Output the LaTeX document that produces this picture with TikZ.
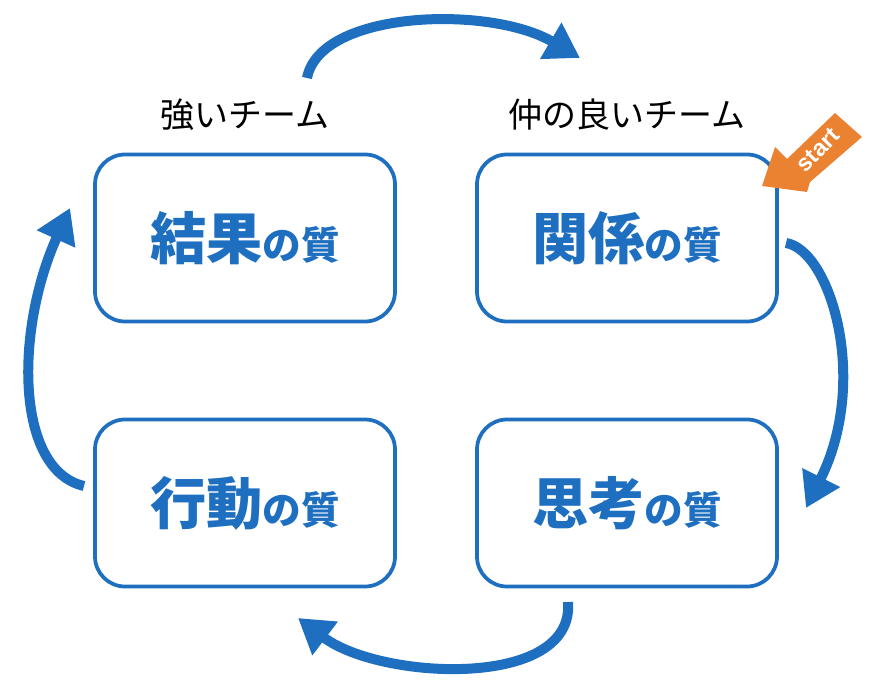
\documentclass[tikz,border=0pt]{standalone}
\usepackage{fontspec}
\setmainfont{Noto Sans CJK JP}
\setsansfont{Liberation Sans}
\usetikzlibrary{arrows.meta}
\definecolor{qb}{HTML}{1F6FC1}
\definecolor{qo}{HTML}{EB8232}
\begin{document}
\begin{tikzpicture}[x=0.03cm,y=-0.03cm,
  box/.style={draw=qb,line width=3.2pt,rounded corners=30*0.03cm,minimum width=300*0.03cm,minimum height=167*0.03cm,inner sep=0pt},
  cyc/.style={draw=qb,line width=10*0.03cm,-{Triangle[length=34*0.03cm,width=40*0.03cm]}},
  lbl/.style={font=\fontsize{29}{32}\selectfont}]
\useasboundingbox (0,0) rectangle (876,682);
\newcommand{\qtxt}[1]{\textcolor{qb}{{\fontsize{48}{52}\selectfont\bfseries #1}{\fontsize{33}{36}\selectfont\bfseries の質}}}
\node[box] (r) at (245,238) {\qtxt{結果}};
\node[box] (k) at (627,238) {\qtxt{関係}};
\node[box] (a) at (245,503) {\qtxt{行動}};
\node[box] (t) at (627,503) {\qtxt{思考}};
\node[lbl] (l1) at (245,115) {強いチーム};
\node[lbl] (l2) at (627,115) {仲の良いチーム};
\coordinate (c1s) at (307,78); \coordinate (c1e) at (580,58);
\coordinate (c2s) at (786,243); \coordinate (c2e) at (806,508);
\coordinate (c3s) at (568,602); \coordinate (c3e) at (298,618);
\coordinate (c4s) at (84,486); \coordinate (c4e) at (70,208);
\draw[cyc] (c1s) .. controls (320,10) and (490,5) .. (c1e);
\draw[cyc] (c2s) .. controls (830,250) and (870,380) .. (c2e);
\draw[cyc] (c3s) .. controls (575,690) and (380,680) .. (c3e);
\draw[cyc] (c4s) .. controls (15,470) and (15,330) .. (c4e);
\coordinate (st) at (762,186);
\fill[qo] (st) -- (775,147) -- (787,159) -- (835,113) -- (862,137) -- (810,182) -- (807,192) -- cycle;
\node[text=white,font=\fontsize{20}{22}\sffamily\bfseries\selectfont,rotate=45,inner sep=0pt] (s) at (818,150) {start};
\end{tikzpicture}
\end{document}
